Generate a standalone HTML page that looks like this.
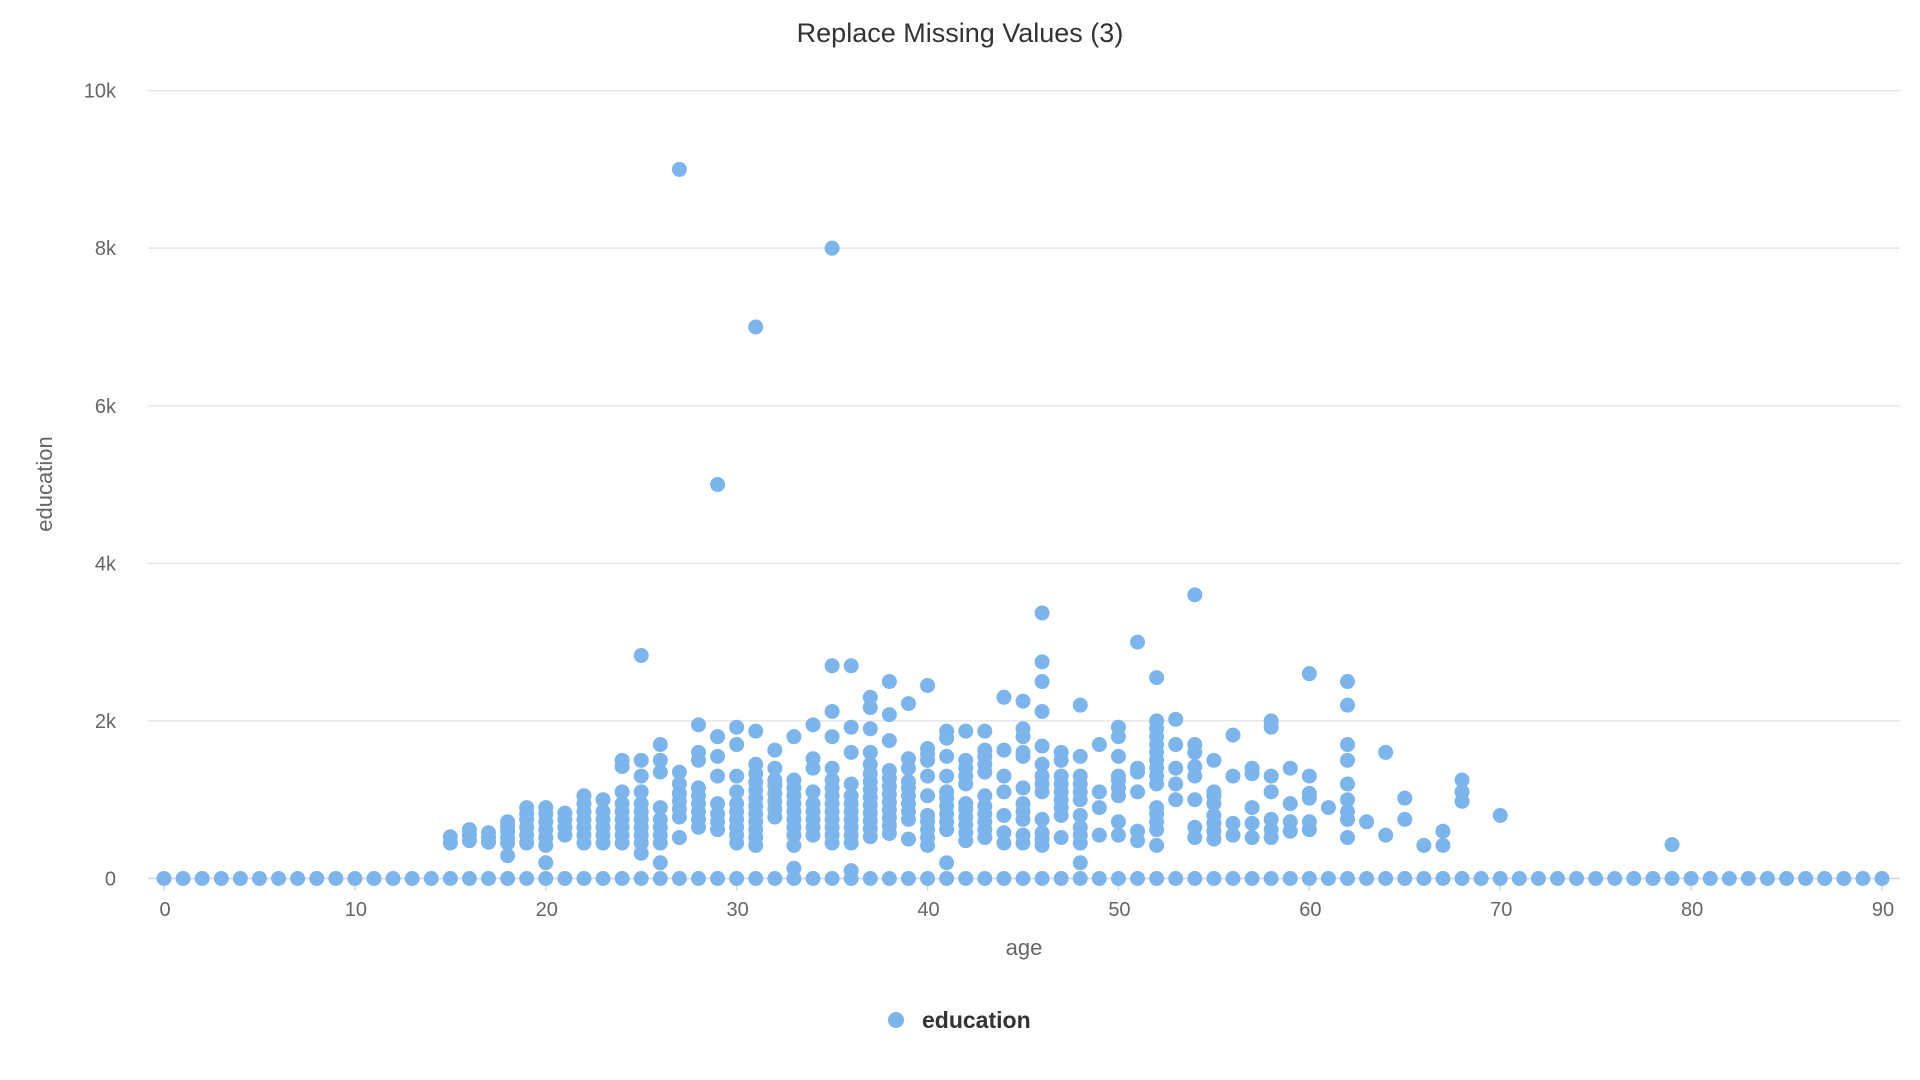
<!DOCTYPE html>
<html><head><meta charset="utf-8"><style>
html,body{margin:0;padding:0;background:#fff;}
svg{display:block;font-family:"Liberation Sans",sans-serif;}
</style></head><body>
<svg id="chart" width="1920" height="1080" viewBox="0 0 1920 1080">
<text x="960" y="42" text-anchor="middle" font-size="27" fill="#333">Replace Missing Values (3)</text>
<g id="grid"></g>
<g id="yticks"></g>
<g id="xticks"></g>
<g id="points"></g>
<text x="0" y="0" transform="translate(52,484) rotate(-90)" text-anchor="middle" font-size="22" fill="#666">education</text>
<text x="1024" y="955" text-anchor="middle" font-size="22" fill="#666">age</text>
<g>
<circle cx="896" cy="1020" r="8" fill="#7cb5ec"></circle>
<text x="922" y="1028" font-size="23" font-weight="bold" fill="#333">education</text>
</g>
</svg>
<script>
const ageCategories = [0,1,2,3,4,5,6,7,8,9,10,11,12,13,14,15,16,17,18,19,20,21,22,23,24,25,26,27,28,29,30,31,32,33,34,35,36,37,38,39,40,41,42,43,44,45,46,47,48,49,50,51,52,53,54,55,56,57,58,59,60,61,62,63,64,65,66,67,68,69,70,71,72,73,74,75,76,77,78,79,80,81,82,83,84,85,86,87,88,89,90];
const educationValues = [
[0],[0],[0],[0],[0],[0],[0],[0],[0],[0],
[0],[0],[0],[0],[0],
[0,450,530],
[0,480,550,620],
[0,460,520,580],
[0,290,450,520,600,660,720],
[0,450,550,650,750,820,900],
[0,200,420,520,620,720,820,900],
[0,550,650,750,830],
[0,450,550,650,750,850,950,1050],
[0,450,550,650,750,850,1000],
[0,450,550,650,750,850,950,1100,1420,1500],
[0,320,450,550,650,750,850,950,1100,1300,1500,2830],
[0,200,450,550,650,750,900,1350,1500,1700],
[0,520,780,880,980,1080,1200,1350,9000],
[0,650,750,850,950,1050,1150,1500,1600,1950],
[0,620,720,820,950,1300,1550,1800,5000],
[0,450,550,650,750,850,950,1100,1300,1700,1920],
[0,420,520,620,720,820,920,1020,1120,1220,1330,1450,1870,7000],
[0,780,880,980,1080,1180,1250,1400,1630],
[0,130,420,550,650,750,850,950,1050,1150,1250,1800],
[0,550,650,750,850,950,1100,1400,1520,1950],
[0,450,550,650,750,850,950,1050,1150,1250,1400,1800,2120,2700,8000],
[0,100,450,550,650,750,850,950,1050,1200,1600,1920,2700],
[0,530,630,730,830,930,1030,1130,1230,1330,1450,1600,1900,2170,2300],
[0,570,670,770,870,970,1070,1170,1270,1370,1750,2080,2500],
[0,500,750,850,950,1050,1150,1230,1400,1520,2220],
[0,420,520,620,720,800,1050,1300,1500,1580,1650,2450],
[0,200,620,720,820,920,1020,1100,1300,1550,1780,1870],
[0,480,580,680,780,880,950,1200,1300,1400,1500,1870],
[0,520,620,720,820,920,1050,1350,1450,1550,1630,1870],
[0,450,580,800,1100,1300,1630,2300],
[0,450,550,750,850,950,1150,1550,1600,1800,1900,2250],
[0,420,500,580,750,1100,1200,1300,1450,1680,2120,2500,2750,3370],
[0,520,800,900,1000,1100,1200,1300,1500,1600],
[0,200,450,550,650,800,1000,1100,1200,1300,1550,2200],
[0,550,900,1100,1700],
[0,550,720,1050,1150,1250,1300,1550,1800,1920],
[0,480,600,1100,1350,1400,3000],
[0,420,620,720,820,900,1200,1300,1400,1500,1600,1700,1800,1900,2000,2550],
[0,1000,1200,1400,1700,2020],
[0,520,650,1000,1300,1420,1600,1700,3600],
[0,500,600,700,800,950,1050,1100,1500],
[0,550,700,1300,1820],
[0,520,700,900,1330,1400],
[0,520,620,750,1100,1300,1920,2000],
[0,600,720,950,1400],
[0,620,720,1020,1080,1300,2600],
[0,900],
[0,520,750,850,1000,1200,1500,1700,2200,2500],
[0,720],
[0,550,1600],
[0,750,1020],
[0,420],
[0,420,600],
[0,980,1100,1250],
[0],
[0,800],
[0],[0],[0],[0],[0],[0],[0],[0],
[0,430],
[0],[0],[0],[0],[0],[0],[0],[0],[0],[0],[0]
];
const yTickValues = [0,2000,4000,6000,8000,10000];
const yTickLabels = ["0","2k","4k","6k","8k","10k"];
const xTickValues = [0,10,20,30,40,50,60,70,80,90];
const xTickLabels = ["0","10","20","30","40","50","60","70","80","90"];

const NS = "http://www.w3.org/2000/svg";
const X0 = 164, X1 = 1882, Y0 = 878.5, Y1 = 90.6;
function xScale(v){ return X0 + (v - 0) / 90 * (X1 - X0); }
function yScale(v){ return Y0 - (v - 0) / 10000 * (Y0 - Y1); }
function mk(tag, attrs){ const e = document.createElementNS(NS, tag); for (const k in attrs) e.setAttribute(k, attrs[k]); return e; }

const grid = document.getElementById('grid');
const yt = document.getElementById('yticks');
yTickValues.forEach((v, i) => {
  const y = yScale(v);
  const l = mk('line', {x1:148, x2:1900, y1:y, y2:y, stroke: v === 0 ? '#ccd6eb' : '#e6e6e6', 'stroke-width':1.5});
  
  
  grid.appendChild(l);
  const t = mk('text', {x:116, y:y + 7, 'text-anchor':'end', 'font-size':20, fill:'#666'});
  t.textContent = yTickLabels[i];
  
  
  yt.appendChild(t);
});
const xt = document.getElementById('xticks');
xTickValues.forEach((v, i) => {
  const x = xScale(v);
  const tk = mk('line', {x1:x, x2:x, y1:Y0, y2:Y0 + 12, stroke:'#ccd6eb', 'stroke-width':1.5});
  
  
  xt.appendChild(tk);
  const t = mk('text', {x:x + 1, y:916, 'text-anchor':'middle', 'font-size':20, fill:'#666'});
  t.textContent = xTickLabels[i];
  
  
  xt.appendChild(t);
});
const pts = document.getElementById('points');
ageCategories.forEach((age, i) => {
  (educationValues[i] || []).forEach(v => {
    const c = mk('circle', {cx:xScale(age), cy:yScale(v), r:7.5, fill:'#7cb5ec'});
    
    
    pts.appendChild(c);
  });
});
</script>
</body></html>
